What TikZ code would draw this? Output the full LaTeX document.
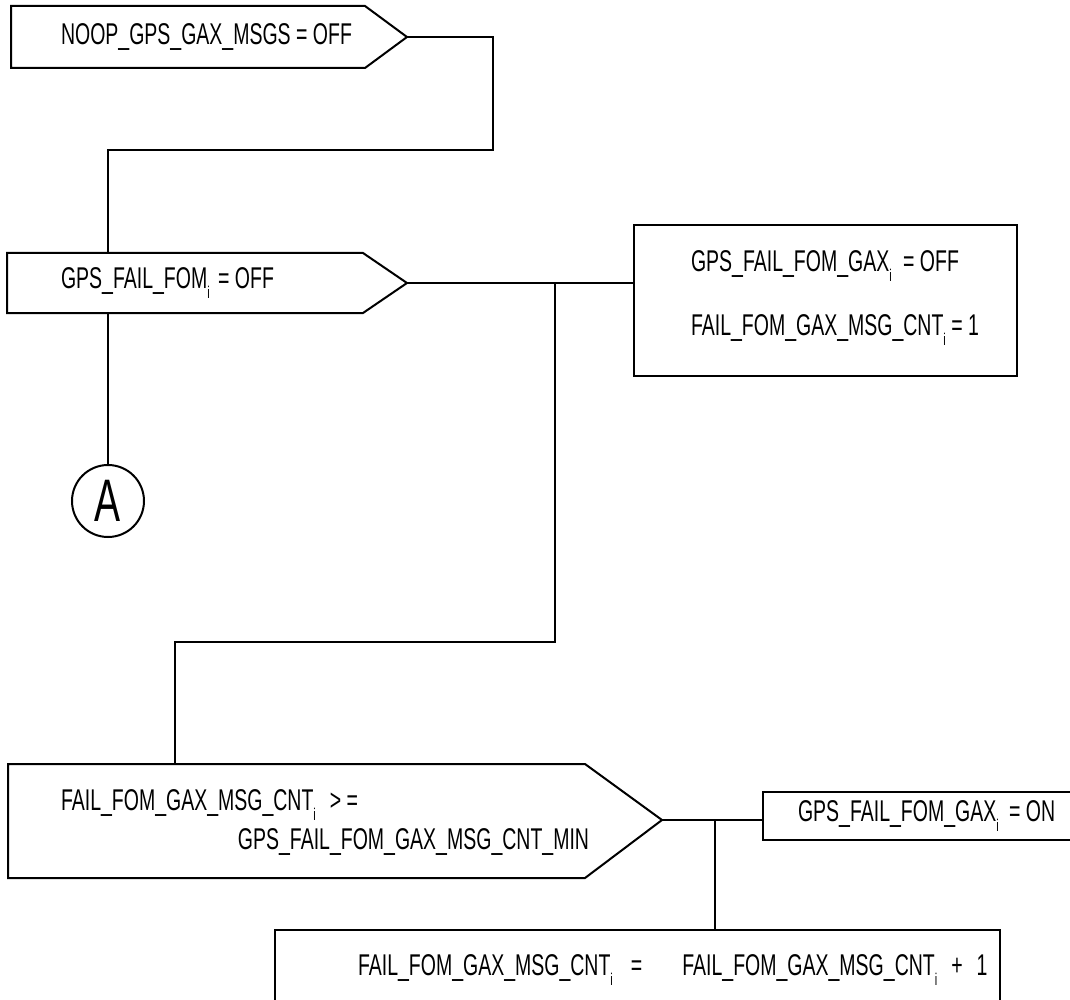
\documentclass[tikz,border=0pt]{standalone}
\usepackage{fontspec}
\setmainfont{Liberation Sans}[FakeStretch=0.65]
\newcommand\ssub[1]{\raisebox{-0.32em}{\fontsize{17}{17}\selectfont #1}}
\begin{document}
\begin{tikzpicture}[x=1pt,y=-1pt,line width=2pt,
  lbl/.style={font=\fontsize{30}{30}\selectfont, inner sep=0pt, anchor=west},
  boxn/.style={draw, rectangle, inner sep=0pt, outer sep=0pt, anchor=north west},
  wire/.style={line width=2pt}]
\useasboundingbox (0,0) rectangle (1070,1000);
\fill[white] (0,0) rectangle (1070,1000);

% pentagon 1
\draw (11,6) -- (365,6) -- (407,37) -- (365,68) -- (11,68) -- cycle;
\coordinate (p1tip) at (407,37);
\coordinate (p1bend) at (493,150);
\node[lbl] (t1) at (60,37) {NOOP\_GPS\_GAX\_MSGS = OFF};

% pentagon 2
\draw (7,253) -- (363,253) -- (407,283) -- (363,313) -- (7,313) -- cycle;
\coordinate (p2top) at (108,253);
\coordinate (p2bot) at (108,313);
\coordinate (p2tip) at (407,283);
\node[lbl] (t2) at (60,283) {GPS\_FAIL\_FOM\ssub{i}\hspace{3pt} = OFF};

% connector A
\node[circle, draw, minimum size=72pt, inner sep=0pt, font=\fontsize{60}{60}\selectfont] (A) at (108,501) {A};

% box 1
\node[boxn, minimum width=383pt, minimum height=151pt] (b1) at (634,225) {};
\node[lbl] (t3) at (690,266) {GPS\_FAIL\_FOM\_GAX\ssub{i}\hspace{6pt} = OFF};
\node[lbl] (t4) at (690,330) {FAIL\_FOM\_GAX\_MSG\_CNT\ssub{i} = 1};

% pentagon 3
\draw (8,764) -- (585,764) -- (662,820) -- (585,878) -- (8,878) -- cycle;
\coordinate (p3top) at (175,764);
\coordinate (p3tip) at (662,820);
\coordinate (br1) at (555,283);
\coordinate (br1b) at (555,642);
\node[lbl] (t5) at (60,805) {FAIL\_FOM\_GAX\_MSG\_CNT\ssub{i}\hspace{14pt}> =};
\node[lbl, anchor=east] (t6) at (590,842) {GPS\_FAIL\_FOM\_GAX\_MSG\_CNT\_MIN};

% box 2
\node[boxn, minimum width=310pt, minimum height=48pt] (b2) at (763,792) {};
\node[lbl] (t7) at (797,816) {GPS\_FAIL\_FOM\_GAX\ssub{i}\hspace{5pt} = ON};
\coordinate (br2) at (715,820);

% box 3
\node[boxn, minimum width=725pt, minimum height=80pt] (b3) at (275,930) {};
\node[lbl] (t8) at (357,970) {FAIL\_FOM\_GAX\_MSG\_CNT\ssub{i}\hspace{18pt}=\hspace{40pt}FAIL\_FOM\_GAX\_MSG\_CNT\ssub{i}\hspace{14pt}+\hspace{14pt}1};

% connectors
\draw[wire] (p1tip) -- (p1tip -| p1bend) -- (p1bend) -- (p1bend -| p2top) -- (p2top);
\draw[wire] (p2bot) -- (A.north);
\draw[wire] (p2tip) -- (p2tip -| b1.west);
\draw[wire] (br1) -- (br1b) -- (br1b -| p3top) -- (p3top);
\draw[wire] (p3tip) -- (p3tip -| b2.west);
\draw[wire] (br2) -- (br2 |- b3.north);
\end{tikzpicture}
\end{document}
